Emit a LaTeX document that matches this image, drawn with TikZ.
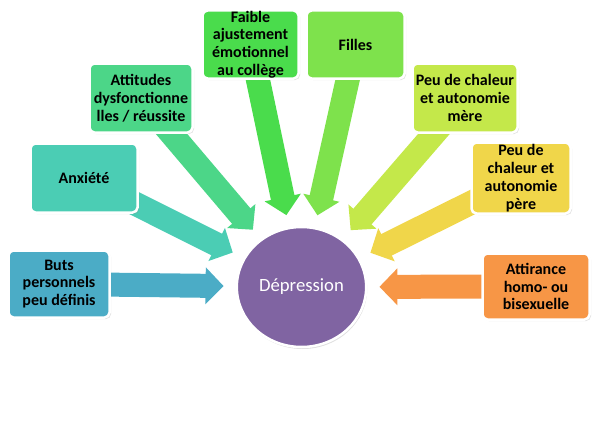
\documentclass[tikz,border=0pt]{standalone}
\usepackage{fontspec}
\setmainfont{Carlito}
\usetikzlibrary{arrows.meta,shapes.geometric,shadows,backgrounds}
\definecolor{cbuts}{RGB}{75,172,198}
\definecolor{canx}{RGB}{75,205,180}
\definecolor{catt}{RGB}{76,214,136}
\definecolor{cfaible}{RGB}{74,220,76}
\definecolor{cfilles}{RGB}{126,226,76}
\definecolor{cmere}{RGB}{196,232,74}
\definecolor{cpere}{RGB}{240,214,74}
\definecolor{cattir}{RGB}{247,150,70}
\definecolor{cdep}{RGB}{128,100,162}
\begin{document}
\begin{tikzpicture}
[   x=1pt,y=-1pt,
    box/.style={draw=white,line width=2.5pt,fill=#1,rounded corners=5pt,inner sep=0pt,align=center,
        font=\fontsize{16}{17.8}\selectfont\bfseries,
        drop shadow={opacity=0.25,shadow xshift=1.5pt,shadow yshift=-1.5pt}},
    flow/.style={draw=#1,line width=24pt,-{Triangle[width=36pt,length=18pt]},shorten >=12pt},
]
    \useasboundingbox (0,0) rectangle (599,420);

    \node[ellipse,draw=white,line width=2.5pt,fill=cdep,minimum width=125pt,minimum height=120pt,
        text=white,font=\fontsize{18.7}{22}\selectfont,
        drop shadow={opacity=0.25,shadow xshift=1pt,shadow yshift=-2pt}] (dep) at (301.5,287) {Dépression};

    \node[box=cbuts,minimum width=101pt,minimum height=67pt] (buts) at (59,284) {Buts\\personnels\\peu définis};
    \node[box=canx,minimum width=107pt,minimum height=69pt] (anx) at (84,178) {Anxiété};
    \node[box=catt,minimum width=103pt,minimum height=69pt] (att) at (141,98) {Attitudes\\dysfonctionne\\lles / réussite};
    \node[box=cfaible,minimum width=96pt,minimum height=68pt] (faible) at (250.5,44.5) {Faible\\ajustement\\émotionnel\\au collège};
    \node[box=cfilles,minimum width=98pt,minimum height=68pt] (filles) at (355.5,44.5) {Filles};
    \node[box=cmere,minimum width=105pt,minimum height=69pt] (mere) at (465,98) {Peu de chaleur\\et autonomie\\mère};
    \node[box=cpere,minimum width=99pt,minimum height=71pt] (pere) at (521,178) {Peu de\\chaleur et\\autonomie\\père};
    \node[box=cattir,minimum width=107pt,minimum height=66pt] (attir) at (536,286.5) {Attirance\\homo- ou\\bisexuelle};

    \begin{scope}[on background layer]
    \foreach \b in {buts,anx,att,faible,filles,mere,pere,attir}
    {   \draw[flow=c\b] (\b.center) -- (dep);
    }
    \end{scope}
\end{tikzpicture}
\end{document}
